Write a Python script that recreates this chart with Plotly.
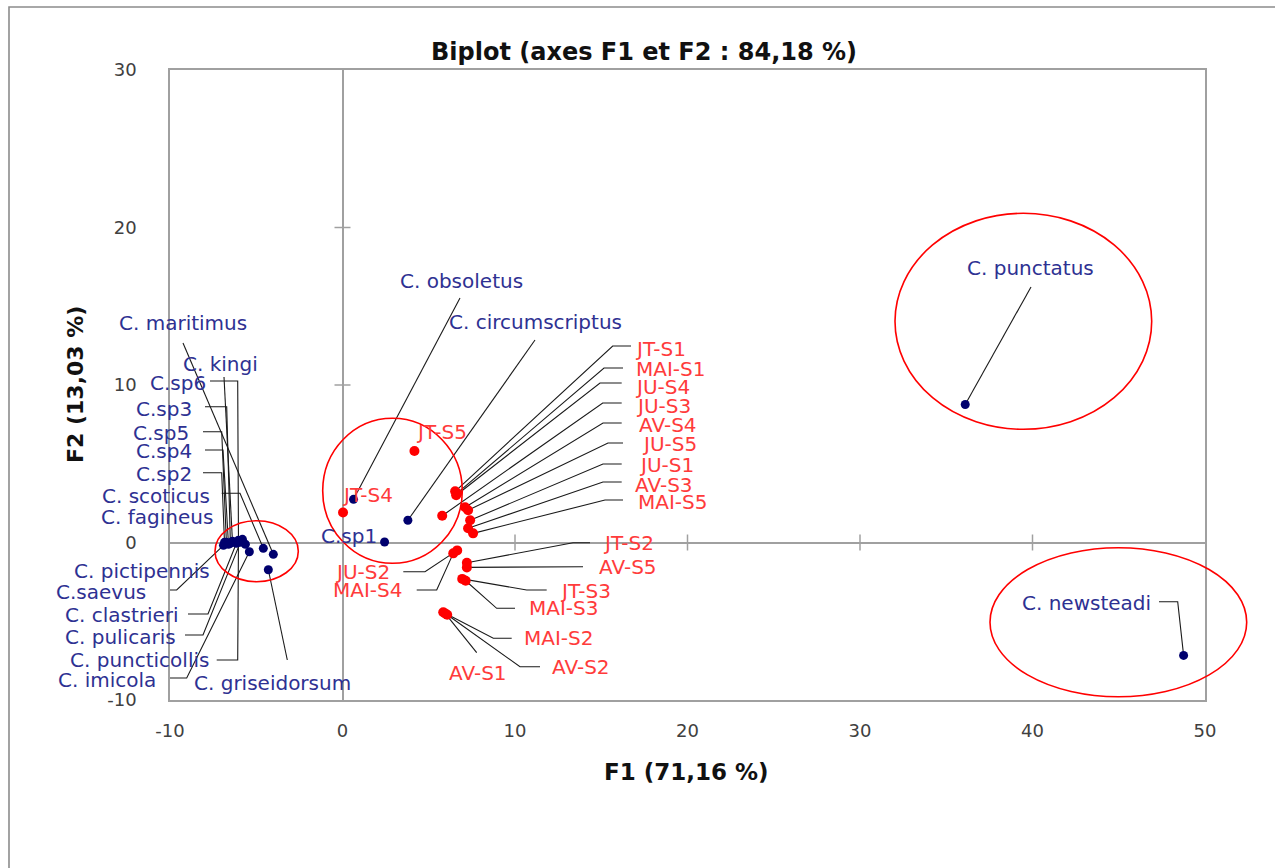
import plotly.graph_objects as go

# ---------------- data ----------------
species = ["C. maritimus", "C. kingi", "C.sp6", "C.sp3", "C.sp5", "C.sp4", "C.sp2",
           "C. scoticus", "C. fagineus", "C. pictipennis", "C.saevus", "C. clastrieri",
           "C. pulicaris", "C. puncticollis", "C. imicola", "C. griseidorsum",
           "C. obsoletus", "C. circumscriptus", "C.sp1", "C. punctatus", "C. newsteadi"]
species_f1 = [-4.01, -6.38, -6.03, -6.50, -6.73, -6.61, -6.84,
              -4.59, -5.80, -5.63, -6.90, -6.15,
              -5.92, -6.03, -5.40, -4.30,
              0.64, 3.79, 2.44, 36.10, 48.76]
species_f2 = [-0.75, 0.08, 0.08, -0.05, 0.01, -0.11, 0.01,
              -0.37, 0.20, -0.11, -0.18, -0.05,
              0.01, 0.14, -0.59, -1.73,
              2.74, 1.41, 0.03, 8.76, -7.17]

sites = ["JT-S1", "JT-S2", "JT-S3", "JT-S4", "JT-S5",
         "MAI-S1", "MAI-S2", "MAI-S3", "MAI-S4", "MAI-S5",
         "JU-S1", "JU-S2", "JU-S3", "JU-S4", "JU-S5",
         "AV-S1", "AV-S2", "AV-S3", "AV-S4", "AV-S5"]
site_f1 = [6.53, 7.21, 6.94, 0.03, 4.17,
           6.65, 5.84, 7.14, 6.42, 7.57,
           7.40, 6.65, 5.78, 6.59, 7.28,
           5.95, 6.07, 7.28, 7.11, 7.21]
site_f2 = [3.25, -1.29, -2.31, 1.90, 5.81,
           3.13, -4.43, -2.43, -0.69, 0.58,
           1.41, -0.50, 1.70, 3.00, 2.05,
           -4.50, -4.59, 0.90, 2.24, -1.58]

x_ticks = [-10, 0, 10, 20, 30, 40, 50]
x_tick_labels = ["-10", "0", "10", "20", "30", "40", "50"]
y_ticks = [-10, 0, 10, 20, 30]
y_tick_labels = ["-10", "0", "10", "20", "30"]

# ---------------- layout geometry ----------------
W, H = 1275, 868
L, R, T, B = 170, 1205, 70, 700
XR = (-10, 50)
YR = (-10, 30)


def px2data(px, py):
    return (XR[0] + (px - L) / (R - L) * (XR[1] - XR[0]),
            YR[1] - (py - T) / (B - T) * (YR[1] - YR[0]))


def px2paper(px, py):
    return ((px - L) / (R - L), (B - py) / (B - T))


# label placement: text anchor (px), xanchor, leader elbow points (px)
species_labels = {
    "C. maritimus": (183, 323, "center", [(183, 343)]),
    "C. kingi": (220, 364, "center", [(224, 377)]),
    "C.sp6": (208, 383, "right", [(210, 381), (237.7, 381)]),
    "C.sp3": (194, 409, "right", [(205, 406.7), (226.7, 406.7)]),
    "C.sp5": (191, 433, "right", [(203, 431.7), (221.7, 431.7)]),
    "C.sp4": (194, 451, "right", [(205, 450), (223, 450)]),
    "C.sp2": (194, 474, "right", [(203, 472.7), (221.7, 472.7)]),
    "C. scoticus": (212, 496, "right", [(221.7, 493.3), (240, 493.3)]),
    "C. fagineus": (215, 517, "right", []),
    "C. pictipennis": (212, 571, "right", []),
    "C.saevus": (148, 592, "right", [(160, 590), (176.7, 590)]),
    "C. clastrieri": (181, 615, "right", [(188, 614), (208, 614)]),
    "C. pulicaris": (178, 637, "right", [(185, 635), (203, 635)]),
    "C. puncticollis": (211, 660, "right", [(216.7, 660), (237.7, 660)]),
    "C. imicola": (158, 680, "right", [(168, 678), (186.7, 678)]),
    "C. griseidorsum": (192, 683, "left", [(287.3, 660)]),
    "C. obsoletus": (461, 281, "center", [(460, 298)]),
    "C. circumscriptus": (535, 322, "center", [(535, 340)]),
    "C.sp1": (379, 536, "right", []),
    "C. punctatus": (1030, 268, "center", [(1031, 287)]),
    "C. newsteadi": (1153, 603, "right", [(1159, 601.7), (1177.7, 601.7)]),
}

site_labels = {
    "JT-S1": (633, 349, "left", [(631, 346), (612.7, 346)]),
    "MAI-S1": (634, 369, "left", [(623, 368), (604, 368)]),
    "JU-S4": (633, 387, "left", [(621.7, 383), (600, 383)]),
    "JU-S3": (634, 406, "left", [(621.7, 403), (602.7, 403)]),
    "AV-S4": (637, 425, "left", [(621.7, 423), (603, 423)]),
    "JU-S5": (640, 444, "left", [(623, 443), (608, 443)]),
    "JU-S1": (637, 465, "left", [(621.7, 464), (603, 464)]),
    "AV-S3": (633, 485, "left", [(621.7, 482), (603, 482)]),
    "MAI-S5": (636, 502, "left", [(623, 500), (605, 500)]),
    "JT-S2": (601, 543, "left", [(590, 542.7), (573, 542.7)]),
    "AV-S5": (597, 567, "left", [(583, 566.7)]),
    "JT-S3": (558, 591, "left", [(546.7, 590), (526.7, 590)]),
    "MAI-S3": (527, 608, "left", [(515, 608.3), (496.7, 608.3)]),
    "MAI-S2": (522, 638, "left", [(511.7, 638.3), (493.3, 638.3)]),
    "AV-S2": (550, 667, "left", [(540, 666.7), (520, 666.7)]),
    "AV-S1": (478, 673, "center", [(476.7, 652.7)]),
    "JU-S2": (392, 572, "right", [(403.3, 571.7), (425, 571.7)]),
    "MAI-S4": (404, 590, "right", [(416.7, 590), (436.7, 590)]),
    "JT-S4": (367, 495, "center", []),
    "JT-S5": (441, 432, "center", []),
}

BLUE_PT = "#00006e"
BLUE_TXT = "#2e3192"
RED_PT = "#ff0000"
RED_TXT = "#ff3b3b"
GRAY = "#a0a0a0"
FONT = "DejaVu Sans"
LABEL_SIZE = 20

fig = go.Figure()

# leader lines
lx, ly = [], []
for names, xs, ys, labels in ((species, species_f1, species_f2, species_labels),
                              (sites, site_f1, site_f2, site_labels)):
    for n, xv, yv in zip(names, xs, ys):
        elbows = labels[n][3]
        if not elbows:
            continue
        for (px, py) in elbows:
            dx, dy = px2data(px, py)
            lx.append(dx)
            ly.append(dy)
        lx.append(xv)
        ly.append(yv)
        lx.append(None)
        ly.append(None)

fig.add_trace(go.Scatter(x=lx, y=ly, mode="lines",
                         line=dict(color="#1a1a1a", width=1.1),
                         hoverinfo="skip", showlegend=False))

fig.add_trace(go.Scatter(x=species_f1, y=species_f2, mode="markers", text=species,
                         marker=dict(color=BLUE_PT, size=9), showlegend=False,
                         cliponaxis=False))
fig.add_trace(go.Scatter(x=site_f1, y=site_f2, mode="markers", text=sites,
                         marker=dict(color=RED_PT, size=10), showlegend=False,
                         cliponaxis=False))

annotations = []
for labels, col in ((species_labels, BLUE_TXT), (site_labels, RED_TXT)):
    for n, (px, py, xa, _) in labels.items():
        ax_, ay_ = px2paper(px, py)
        annotations.append(dict(text=n, x=ax_, y=ay_, xref="paper", yref="paper",
                                xanchor=xa, yanchor="middle", showarrow=False,
                                font=dict(family=FONT, size=LABEL_SIZE, color=col)))

# titles
tx, ty = px2paper(644, 52)
annotations.append(dict(text="<b>Biplot (axes F1 et F2 : 84,18 %)</b>", x=tx, y=ty,
                        xref="paper", yref="paper", showarrow=False,
                        xanchor="center", yanchor="middle",
                        font=dict(family=FONT, size=24, color="#111111")))
tx, ty = px2paper(686, 772)
annotations.append(dict(text="<b>F1 (71,16 %)</b>", x=tx, y=ty,
                        xref="paper", yref="paper", showarrow=False,
                        xanchor="center", yanchor="middle",
                        font=dict(family=FONT, size=23, color="#111111")))
tx, ty = px2paper(75, 385)
annotations.append(dict(text="<b>F2 (13,03 %)</b>", x=tx, y=ty, textangle=-90,
                        xref="paper", yref="paper", showarrow=False,
                        xanchor="center", yanchor="middle",
                        font=dict(family=FONT, size=22, color="#111111")))

shapes = []
# cross tick marks on the zero lines
for v in x_ticks:
    if v in (0, XR[0], XR[1]):
        continue
    shapes.append(dict(type="line", xref="x", yref="y", ysizemode="pixel", yanchor=0,
                       x0=v, x1=v, y0=-8, y1=8, line=dict(color=GRAY, width=1.5)))
for v in y_ticks:
    if v in (0, YR[0], YR[1]):
        continue
    shapes.append(dict(type="line", xref="x", yref="y", xsizemode="pixel", xanchor=0,
                       y0=v, y1=v, x0=-8, x1=8, line=dict(color=GRAY, width=1.5)))

# highlight ellipses (pixel boxes -> paper)
for (a, b, c, d) in [(215, 520.7, 298.3, 581.7), (322.7, 418.3, 462.3, 563.3),
                     (895, 213.3, 1151.7, 429.3), (990, 547.7, 1246.7, 696.7)]:
    x0, y1 = px2paper(a, b)
    x1, y0 = px2paper(c, d)
    shapes.append(dict(type="circle", xref="paper", yref="paper",
                       x0=x0, x1=x1, y0=y0, y1=y1,
                       line=dict(color="#ff0000", width=1.6)))

# outer frame
x0, y1 = px2paper(9, 7)
x1, y0 = px2paper(1290, 890)
shapes.append(dict(type="rect", xref="paper", yref="paper", x0=x0, x1=x1, y0=y0, y1=y1,
                   line=dict(color="#8c8c8c", width=1.6)))

fig.update_layout(
    width=W, height=H,
    margin=dict(l=L, r=W - R, t=T, b=H - B),
    paper_bgcolor="white", plot_bgcolor="white",
    annotations=annotations, shapes=shapes,
    xaxis=dict(range=list(XR), tickvals=x_ticks, ticktext=x_tick_labels, showgrid=False,
               zeroline=True, zerolinecolor=GRAY, zerolinewidth=1.5,
               showline=True, mirror=True, linecolor=GRAY, linewidth=1.5,
               ticks="", ticklabelstandoff=14,
               tickfont=dict(family=FONT, size=18, color="#404040")),
    yaxis=dict(range=list(YR), tickvals=y_ticks, ticktext=y_tick_labels, showgrid=False,
               zeroline=True, zerolinecolor=GRAY, zerolinewidth=1.5,
               showline=True, mirror=True, linecolor=GRAY, linewidth=1.5,
               ticks="", ticklabelstandoff=28,
               tickfont=dict(family=FONT, size=18, color="#404040")),
)

fig.write_html("out.html", config={"displayModeBar": False},
               post_script="document.body.style.margin='0';")
